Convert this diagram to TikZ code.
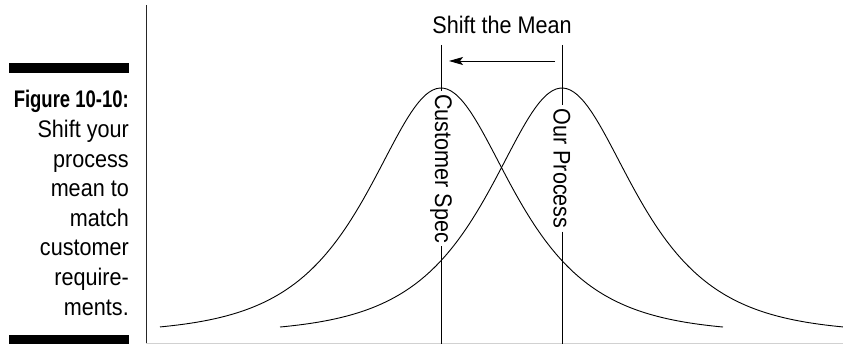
\documentclass[tikz,border=0pt]{standalone}
\usepackage{fontspec}
\setmainfont{Liberation Sans}[FakeStretch=0.9, BoldFeatures={FakeStretch=0.77}]
\usetikzlibrary{arrows.meta}
\begin{document}
\begin{tikzpicture}[x=1pt,y=-1pt,
  txt/.style={font=\fontsize{24}{29.7}\selectfont, inner sep=0pt},
  capline/.style={txt, anchor=base east},
  speclabel/.style={txt, rotate=-90, inner xsep=3pt, inner ysep=0pt},
  curve/.style={line width=0.9pt},
  vline/.style={line width=0.9pt},
  bar/.style={fill=black, draw=none}]
\useasboundingbox (0,0) rectangle (843,344);
% caption bars
\fill[bar] (9,63) rectangle (129,73);
\fill[bar] (9,335) rectangle (129,344);
% caption text
\node[capline] (c1) at (129,108) {\bfseries Figure 10-10:};
\node[capline] (c2) at (129,137.6) {Shift your};
\node[capline] (c3) at (129,167.2) {process};
\node[capline] (c4) at (129,196.8) {mean to};
\node[capline] (c5) at (129,226.4) {match};
\node[capline] (c6) at (129,256) {customer};
\node[capline] (c7) at (129,285.6) {require-};
\node[capline] (c8) at (129,315.2) {ments.};
% axis
\coordinate (axTop) at (146,5);
\coordinate (axBot) at (146,344);
\draw[line width=0.9pt, black!85] (axTop) -- (axBot);
\coordinate (gl) at (146,343.5);
\coordinate (gr) at (843,343.5);
\draw[black!18, line width=0.8pt] (gl) -- (gr);
% curves
\draw[curve] plot[domain=-281:282, samples=160, smooth] ({441+\x},{333-490/(exp(\x/64)+exp(-\x/64))});
\draw[curve] plot[domain=-282:281, samples=160, smooth] ({562+\x},{333-490/(exp(\x/64)+exp(-\x/64))});
% title
\node[txt, anchor=base] (title) at (502,34) {Shift the Mean};
% labels and lines
\node[speclabel] (cs) at (441,168.5) {Customer Spec};
\node[speclabel] (op) at (562,168.5) {Our Process};
\coordinate (csTop) at (441,45);
\coordinate (csBot) at (441,344);
\coordinate (opTop) at (562,45);
\coordinate (opBot) at (562,344);
\draw[vline] (csTop) -- (cs.west);
\draw[vline] (cs.east) -- (csBot);
\draw[vline] (opTop) -- (op.west);
\draw[vline] (op.east) -- (opBot);
% arrow
\coordinate (aS) at (555,61);
\coordinate (aE) at (449,61);
\draw[line width=0.9pt, -{Stealth[length=14pt, width=8pt, inset=3pt]}] (aS) -- (aE);
\end{tikzpicture}
\end{document}
